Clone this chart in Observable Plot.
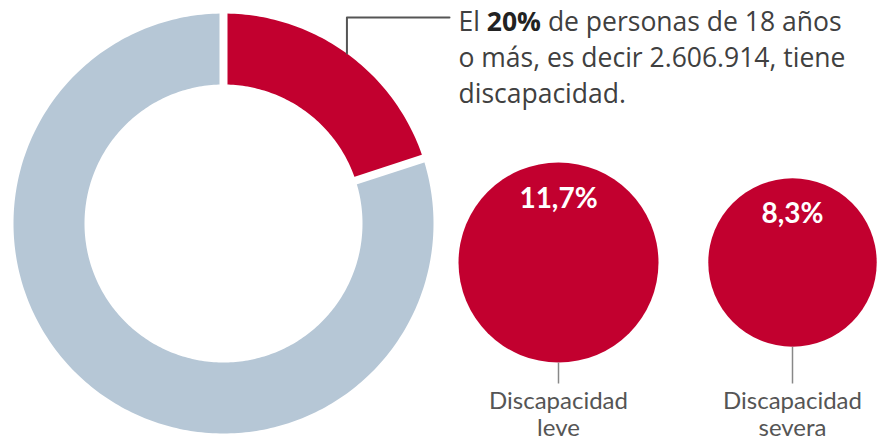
<!DOCTYPE html>
<html><head><meta charset="utf-8">
<script src="https://cdn.jsdelivr.net/npm/d3@7"></script>
<script src="https://cdn.jsdelivr.net/npm/@observablehq/plot@0.6"></script>
<style>
html,body{margin:0;padding:0;background:#fff;}
#chart{width:877px;height:439px;overflow:hidden;}
</style></head><body><div id="chart"></div>
<script>
// ---- data ----
const donutCategories = ["Con discapacidad", "Sin discapacidad"];
const donutValues = [20, 80];
const circleCategories = ["Discapacidad\nleve", "Discapacidad\nsevera"];
const circleValues = [11.7, 8.3];
const circleLabels = ["11,7%", "8,3%"];
const annotationLines = ["El 20% de personas de 18 años", "o más, es decir 2.606.914, tiene", "discapacidad."];
const annotationBold = "20%";

// ---- layout & style ----
const W = 877, H = 439;
const cx = 223, cy = 223, R = 210, R0 = 139;
const circleX = [558, 792], circleY = 262, maxR = 100;
const RED = "#C2002F", BLUE = "#B6C7D6", TEXT = "#404040";
const FONT = "Lato, 'Open Sans', sans-serif", ANN_FONT = "'Open Sans', Lato, sans-serif";

// donut polygons from pie angles
const pie = d3.pie().sort(null).startAngle(0).endAngle(2 * Math.PI)(donutValues);
const ring = [];
pie.forEach((s, i) => {
  const n = Math.max(4, Math.ceil((s.endAngle - s.startAngle) / (Math.PI / 180)));
  for (let k = 0; k <= n; k++) {
    const a = s.startAngle + (s.endAngle - s.startAngle) * k / n;
    ring.push({cat: donutCategories[i], x: cx + R * Math.sin(a), y: cy - R * Math.cos(a)});
  }
  for (let k = n; k >= 0; k--) {
    const a = s.startAngle + (s.endAngle - s.startAngle) * k / n;
    ring.push({cat: donutCategories[i], x: cx + R0 * Math.sin(a), y: cy - R0 * Math.cos(a)});
  }
});
const sepData = pie.map(s => s.startAngle).map(a => ({
  x1: cx + (R0 - 3) * Math.sin(a), y1: cy - (R0 - 3) * Math.cos(a),
  x2: cx + (R + 3) * Math.sin(a), y2: cy - (R + 3) * Math.cos(a)
}));

// leader from middle of first slice
const mid = (pie[0].startAngle + pie[0].endAngle) / 2;
const lx = cx + R * Math.sin(mid), ly = cy - R * Math.cos(mid);
const leader = [{x: lx, y: ly}, {x: lx, y: 17}, {x: 449, y: 17}];

const rScale = d3.scaleSqrt().domain([0, d3.max(circleValues)]).range([0, maxR]);
const circles = circleValues.map((v, i) => ({
  value: v, label: circleLabels[i], cat: circleCategories[i], x: circleX[i], y: circleY, rad: rScale(v)
}));

const ann = annotationLines.map((t, i) => ({t, x: 458, y: 30 + i * 36}));

const plot = Plot.plot({
  width: W, height: H, margin: 0,
  x: {domain: [0, W], range: [0, W], axis: null},
  y: {domain: [0, H], range: [0, H], axis: null},
  r: {type: "sqrt", domain: [0, d3.max(circleValues)], range: [0, maxR]},
  style: {fontFamily: FONT, background: "#fff"},
  marks: [
    Plot.line(ring.filter(d => d.cat === donutCategories[1]), {x: "x", y: "y", fill: BLUE, stroke: "none"}),
    Plot.line(ring.filter(d => d.cat === donutCategories[0]), {x: "x", y: "y", fill: RED, stroke: "none"}),
    Plot.link(sepData, {x1: "x1", y1: "y1", x2: "x2", y2: "y2", stroke: "#fff", strokeWidth: 8}),
    Plot.line(leader, {x: "x", y: "y", stroke: "#555", strokeWidth: 2}),
    Plot.dot(circles, {x: "x", y: "y", r: "value", fill: RED, stroke: "none"}),
    Plot.link(circles, {x1: "x", x2: "x", y1: d => d.y + d.rad, y2: 383, stroke: "#888", strokeWidth: 1.5}),
    Plot.text(circles, {x: "x", y: d => d.y - d.rad + 45, text: "label", fill: "#fff", fontWeight: "bold", fontSize: 28, lineAnchor: "bottom"}),
    Plot.text(circles, {x: "x", y: 435, text: "cat", fill: "#555", fontSize: 24, lineAnchor: "bottom", lineHeight: 1.12}),
    Plot.text(ann, {x: "x", y: "y", text: "t", fill: TEXT, fontSize: 26.5, fontFamily: ANN_FONT, textAnchor: "start", lineAnchor: "bottom"})
  ]
});
document.getElementById("chart").appendChild(plot);

// bold part of the first annotation line
plot.querySelectorAll("text").forEach(el => {
  if (el.textContent === annotationLines[0]) {
    const [pre, post] = annotationLines[0].split(annotationBold);
    el.textContent = "";
    const ns = "http://www.w3.org/2000/svg";
    [[pre, "normal"], [annotationBold, "bold"], [post, "normal"]].forEach(([s, w]) => {
      const ts = document.createElementNS(ns, "tspan");
      ts.textContent = s; ts.setAttribute("font-weight", w);
      if (w === "bold") ts.setAttribute("fill", "#222");
      el.appendChild(ts);
    });
  }
});
</script></body></html>
